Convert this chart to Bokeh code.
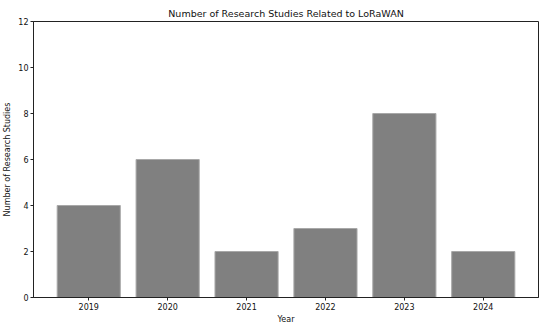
from bokeh.plotting import figure
from bokeh.models import Range1d, FixedTicker, ColumnDataSource
from bokeh.embed import file_html
from bokeh.resources import INLINE

years = ["2019", "2020", "2021", "2022", "2023", "2024"]
counts = [4, 6, 2, 3, 8, 2]
y_ticks = [0, 2, 4, 6, 8, 10, 12]

xs = list(range(len(years)))
src = ColumnDataSource(dict(x=xs, top=counts))

p = figure(frame_width=505, frame_height=276, output_backend="svg", toolbar_location=None,
           x_range=Range1d(-0.7, 5.7), y_range=Range1d(0, 12),
           title="Number of Research Studies Related to LoRaWAN",
           min_border_left=29, min_border_right=1, min_border_top=21, min_border_bottom=22)
p.vbar(x="x", top="top", width=0.8, source=src, fill_color="#808080",
       line_color="#a8a8a8", line_width=1)

p.title.align = "center"
p.title.text_font = "DejaVu Sans"
p.title.text_font_size = "9.5px"
p.title.text_font_style = "normal"
p.title.text_color = "#111111"
p.title.standoff = 5
p.title.offset = 0

p.xaxis.ticker = FixedTicker(ticks=xs)
p.xaxis.major_label_overrides = {i: y for i, y in enumerate(years)}
p.yaxis.ticker = FixedTicker(ticks=y_ticks)
p.xaxis.axis_label = "Year"
p.yaxis.axis_label = "Number of Research Studies"
for ax in (p.xaxis[0], p.yaxis[0]):
    ax.axis_label_text_font = "DejaVu Sans"
    ax.axis_label_text_font_size = "8px"
    ax.axis_label_text_font_style = "normal"
    ax.axis_label_text_color = "#111111"
    ax.major_label_text_font = "DejaVu Sans"
    ax.major_label_text_font_size = "8px"
    ax.major_label_text_color = "#111111"
    ax.minor_tick_line_color = None
    ax.major_tick_out = 3
    ax.major_tick_in = 0
    ax.axis_line_color = "#222222"
    ax.major_tick_line_color = "#222222"
    ax.axis_label_standoff = 3
    ax.major_label_standoff = 2
p.xaxis.axis_label_standoff = 2
p.xgrid.grid_line_color = None
p.ygrid.grid_line_color = None
p.outline_line_color = "#222222"
p.outline_line_alpha = 1.0

open("out.html", "w").write(file_html(p, INLINE))
